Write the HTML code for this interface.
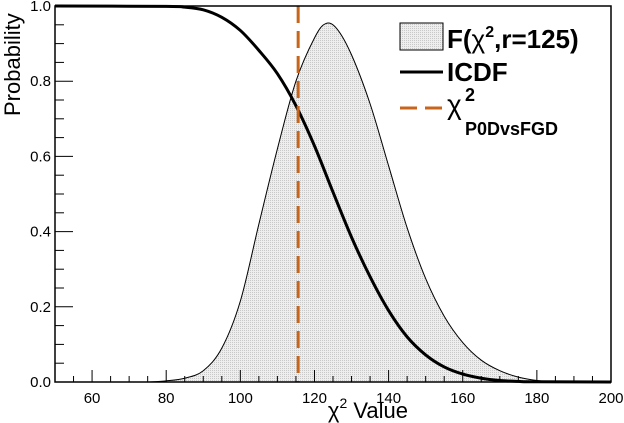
<!DOCTYPE html>
<html><head><meta charset="utf-8"><style>body{margin:0;background:#fff}svg{display:block;font-family:"Liberation Sans",sans-serif}</style></head>
<body>
<svg id="c" width="624" height="423">
<defs><pattern id="hatch" width="2" height="2" patternUnits="userSpaceOnUse"><rect width="2" height="2" fill="#eeeeee"/><rect width="1" height="1" fill="#c8c8c8"/></pattern></defs>
</svg>
<script>
const pdfX=[75,80,85,90,95,100,105,110,115,120,123,126,130,135,140,145,150,155,160,165,170,175,180,185];
const pdfY=[0,0.003,0.01,0.03,0.09,0.215,0.42,0.62,0.8,0.915,0.953,0.94,0.87,0.74,0.575,0.41,0.275,0.175,0.105,0.058,0.03,0.013,0.004,0];
const cdfX=[50,80,85,90,95,100,105,110,115,120,125,130,135,140,145,150,155,160,165,170,175,180,200];
const cdfY=[1,0.999,0.997,0.99,0.97,0.935,0.882,0.82,0.735,0.628,0.505,0.385,0.28,0.19,0.12,0.072,0.04,0.021,0.01,0.004,0.0015,0.0005,0];
const chiObs=115.6;
const xTicks=[60,80,100,120,140,160,180,200];
const yTicks=[0,0.2,0.4,0.6,0.8,1.0];
const L=55,R=611,T=6,B=382;
const sx=v=>L+(v-50)/150*(R-L), sy=v=>B-v*(B-T);
const svg=document.getElementById('c');const NS='http://www.w3.org/2000/svg';
function el(t,a,txt){const e=document.createElementNS(NS,t);for(const k in a)e.setAttribute(k,a[k]);if(txt!==undefined)e.textContent=txt;svg.appendChild(e);return e;}
function smooth(P){let d='M'+P[0][0]+','+P[0][1];for(let i=0;i<P.length-1;i++){const p0=P[Math.max(0,i-1)],p1=P[i],p2=P[i+1],p3=P[Math.min(P.length-1,i+2)];
const c1=[p1[0]+(p2[0]-p0[0])/6,p1[1]+(p2[1]-p0[1])/6],c2=[p2[0]-(p3[0]-p1[0])/6,p2[1]-(p3[1]-p1[1])/6];d+='C'+c1+' '+c2+' '+p2;}return d;}
const pp=pdfX.map((x,i)=>[sx(x),sy(pdfY[i])]);
let p=el('path',{d:smooth(pp)+'L'+sx(pdfX[pdfX.length-1])+','+B+'L'+sx(pdfX[0])+','+B+'Z',fill:'url(#hatch)',stroke:'#000','stroke-width':1});


const cp=cdfX.map((x,i)=>[sx(x),sy(cdfY[i])]);
let c=el('path',{d:smooth(cp),fill:'none',stroke:'#000','stroke-width':3});


let v=el('line',{x1:sx(chiObs),x2:sx(chiObs),y1:T,y2:B,stroke:'#c8651b','stroke-width':3,'stroke-dasharray':'17,8'});


let f=el('rect',{x:L,y:T,width:R-L,height:B-T,fill:'none',stroke:'#000','stroke-width':1.5});


for(let x=50;x<=200;x+=5){const maj=x%20==0;el('line',{x1:sx(x),x2:sx(x),y1:B,y2:B-(maj?12:6),stroke:'#000'});}
xTicks.forEach(x=>{let t=el('text',{x:sx(x),y:B+21,'font-size':15,'text-anchor':'middle'},x);});
for(let i=0;i<=20;i++){const y=i*0.05;const maj=i%4==0;el('line',{x1:L,x2:L+(maj?18:9),y1:sy(y),y2:sy(y),stroke:'#000'});}
yTicks.forEach(y=>{let t=el('text',{x:L-4,y:sy(y)+5,'font-size':15,'text-anchor':'end'},y.toFixed(1));});
</script>
<svg style="position:absolute;left:0;top:0" width="624" height="423">
<defs><pattern id="hatch2" width="2" height="2" patternUnits="userSpaceOnUse"><rect width="2" height="2" fill="#eeeeee"/><rect width="1" height="1" fill="#c8c8c8"/></pattern></defs>
<text x="20" y="116" transform="rotate(-90 20 116)" font-size="22">Probability</text>
<text x="408" y="418" font-size="22" text-anchor="end">χ<tspan font-size="14" dy="-10">2</tspan><tspan dy="10"> Value</tspan></text>
<g font-weight="bold">
<rect x="400" y="23" width="43" height="27" fill="url(#hatch2)" stroke="#000"/>
<text x="447" y="48" font-size="26">F(<tspan font-weight="normal">χ</tspan><tspan font-size="16" dy="-11">2</tspan><tspan dy="11">,r=125)</tspan></text>
<line x1="400" y1="72" x2="443" y2="72" stroke="#000" stroke-width="3"/>
<text x="447" y="81" font-size="26">ICDF</text>
<line x1="400" y1="108" x2="443" y2="108" stroke="#c8651b" stroke-width="3" stroke-dasharray="17,8"/>
<text x="447" y="114" font-size="28" font-weight="normal">χ</text>
<text x="465" y="101" font-size="18">2</text>
<text x="465" y="135" font-size="18">P0DvsFGD</text>
</g>
</svg>
</body></html>
